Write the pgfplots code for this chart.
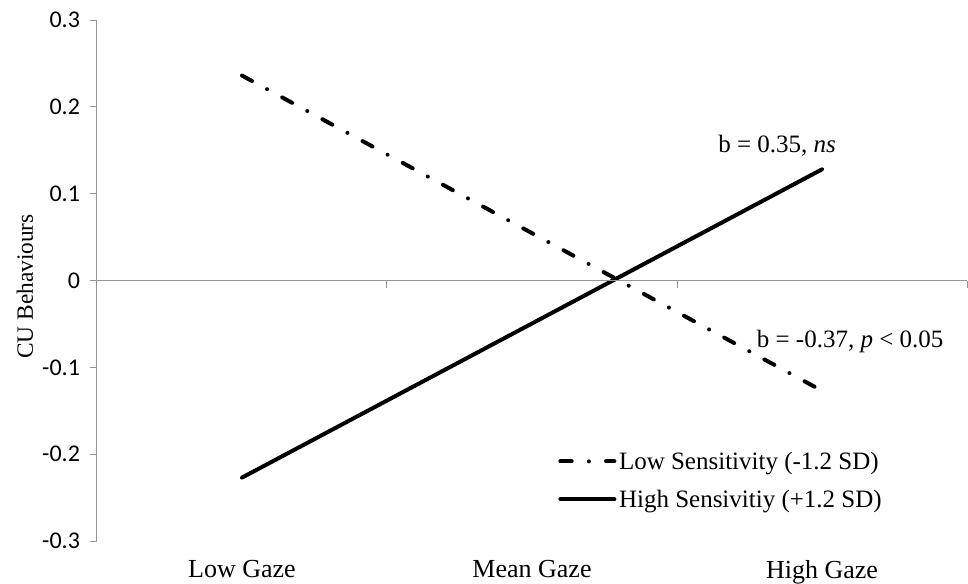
\documentclass[border=0pt]{standalone}
\usepackage{pgfplots}
\pgfplotsset{compat=1.18}
\usepackage{fontspec}
\setmainfont{Liberation Serif}
\newfontfamily\carlito{Carlito}
\definecolor{axgray}{RGB}{150,150,150}
\begin{document}
\begin{tikzpicture}
\begin{axis}[
  at={(0,0)}, anchor=south west,
  scale only axis, width=652.5pt, height=390.75pt,
  xmin=0, xmax=3, ymin=-0.3, ymax=0.3,
  axis y line*=left, axis x line*=bottom,
  x axis line style={draw=none},
  y axis line style={draw=axgray, line width=0.75pt},
  xtick={0.5,1.5,2.5},
  xticklabels={Low Gaze, Mean Gaze, High Gaze},
  xtick style={draw=none},
  xticklabel style={font=\fontsize{19.5}{22}\selectfont, yshift=-6pt},
  ytick={-0.3,-0.2,-0.1,0,0.1,0.2,0.3},
  yticklabels={-0.3,-0.2,-0.1,0,0.1,0.2,0.3},
  ytick style={draw=axgray, line width=0.75pt},
  tick align=outside, major tick length=5.25pt,
  yticklabel style={font=\carlito\fontsize{18}{20}\selectfont, xshift=-4pt},
  ylabel={CU Behaviours},
  ylabel style={font=\fontsize{17.5}{21}\selectfont, at={(axis description cs:-0.083,0.4885)}, anchor=center},
  legend cell align=left,
  legend style={at={(rel axis cs:0.53,0.177)}, anchor=north west, draw=none, fill=none,
    font=\fontsize{18.75}{22}\selectfont, row sep=10pt, inner sep=0pt},
  legend image code/.code={\draw[#1] (0pt,0pt) -- (40.5pt,0pt);},
  clip=false,
]
% Low sensitivity (dash-dot)
\addplot[black, line width=3pt, line cap=round,
  dash pattern=on 8.5pt off 12.9pt on 0pt off 12.9pt]
  coordinates {(0.5,0.236) (1.5,0.0545) (2.5,-0.127)};
\addlegendentry{Low Sensitivity (-1.2 SD)}
% High sensitivity (solid)
\addplot[black, line width=3pt, line cap=round]
  coordinates {(0.5,-0.227) (1.5,-0.0495) (2.5,0.128)};
\addlegendentry{High Sensivitiy (+1.2 SD)}
% horizontal axis at zero with category separators
\draw[axgray, line width=0.75pt] (axis cs:0,0) -- (axis cs:3,0);
\pgfplotsinvokeforeach{1,2,3}{
  \draw[axgray, line width=0.75pt] (axis cs:#1,0) -- ([yshift=-5.25pt]axis cs:#1,0);
}
\node[font=\fontsize{18.75}{22}\selectfont] at (axis cs:2.345,0.155) {b = 0.35, \textit{ns}};
\node[font=\fontsize{18.75}{22}\selectfont] at (axis cs:2.597,-0.0704) {b = -0.37, \textit{p} < 0.05};
\end{axis}
\pgfresetboundingbox
\path[use as bounding box] (-72.75pt,-31.5pt) rectangle (653.25pt,405.75pt);
\end{tikzpicture}
\end{document}
